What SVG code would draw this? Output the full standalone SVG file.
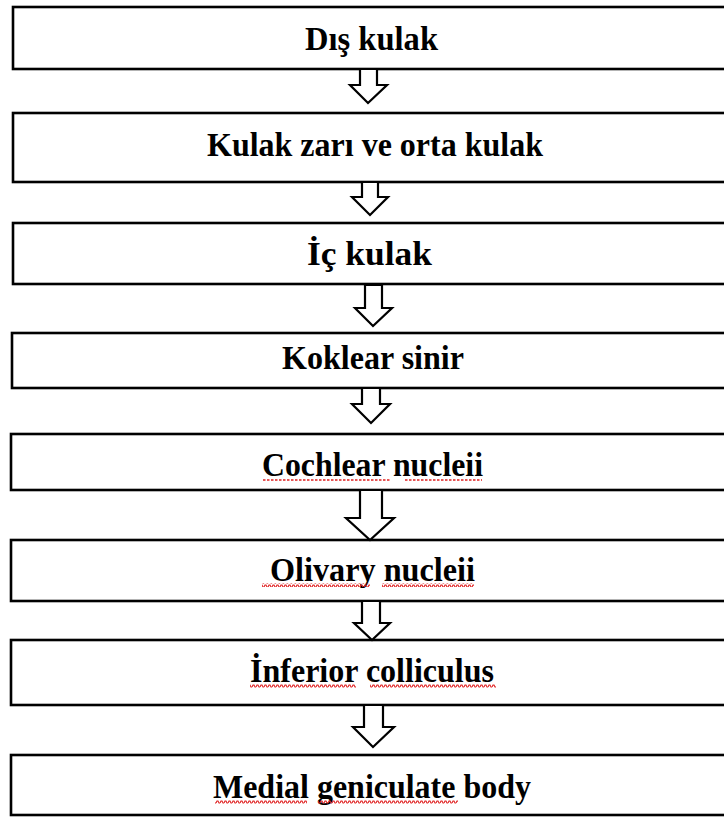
<svg xmlns="http://www.w3.org/2000/svg" width="724" height="817" viewBox="0 0 724 817">
  <style>
    .box { fill: #ffffff; stroke: #000000; stroke-width: 2.6; }
    .lbl { font-family: "Liberation Serif", "Times New Roman", serif; font-weight: bold; font-size: 33px; fill: #000000; text-anchor: middle; }
    .arr { fill: #ffffff; stroke: #000000; stroke-width: 2.2; stroke-linejoin: miter; }
    .dots { stroke: #e02020; stroke-width: 1.3; stroke-dasharray: 2.5 1.5; fill: none; }
  </style>
  <defs>
    <pattern id="wave" x="0" y="0" width="4" height="4" patternUnits="userSpaceOnUse">
      <path d="M0 3 L1 1 L2 1 L3 3 L4 3" fill="none" stroke="#e02020" stroke-width="1.1"/>
    </pattern>
  </defs>
  <rect width="724" height="817" fill="#ffffff"/>

  <g id="node1"><rect class="box" x="13" y="7" width="720" height="62"/><text class="lbl" x="371.5" y="50" textLength="133" lengthAdjust="spacingAndGlyphs">Dış kulak</text></g>
  <g id="node2"><rect class="box" x="13" y="113" width="720" height="69"/><text class="lbl" x="375" y="156" textLength="336" lengthAdjust="spacingAndGlyphs">Kulak zarı ve orta kulak</text></g>
  <g id="node3"><rect class="box" x="13" y="223" width="720" height="61"/><text class="lbl" x="369.5" y="265" textLength="125" lengthAdjust="spacingAndGlyphs">İç kulak</text></g>
  <g id="node4"><rect class="box" x="12" y="333" width="720" height="55"/><text class="lbl" x="373" y="369" textLength="182" lengthAdjust="spacingAndGlyphs">Koklear sinir</text></g>
  <g id="node5"><rect class="box" x="11" y="434" width="720" height="56"/><text class="lbl" x="372.5" y="476" textLength="221" lengthAdjust="spacingAndGlyphs">Cochlear nucleii</text>
    <line class="dots" x1="263" y1="480" x2="391" y2="480"/><line class="dots" x1="405" y1="480" x2="482" y2="480"/></g>
  <g id="node6"><rect class="box" x="11" y="540" width="720" height="61"/><text class="lbl" x="372.5" y="581" textLength="205" lengthAdjust="spacingAndGlyphs">Olivary nucleii</text>
    <rect x="262" y="583" width="108" height="4" fill="url(#wave)"/><rect x="382" y="583" width="92" height="4" fill="url(#wave)"/></g>
  <g id="node7"><rect class="box" x="11" y="640" width="720" height="65"/><text class="lbl" x="372" y="682" textLength="244" lengthAdjust="spacingAndGlyphs">İnferior colliculus</text>
    <rect x="250" y="684" width="106" height="4" fill="url(#wave)"/><rect x="370" y="684" width="126" height="4" fill="url(#wave)"/></g>
  <g id="node8"><rect class="box" x="11" y="755" width="720" height="60"/><text class="lbl" x="372" y="798" textLength="318" lengthAdjust="spacingAndGlyphs">Medial geniculate body</text>
    <rect x="215" y="800" width="92" height="4" fill="url(#wave)"/><rect x="318" y="800" width="140" height="4" fill="url(#wave)"/></g>

  <g id="connectors">
    <polygon class="arr" points="360,69 377,69 377,85 387,85 368,103 350,85 360,85"/>
    <polygon class="arr" points="362,182 378,182 378,197 388,197 370,215 352,197 362,197"/>
    <polygon class="arr" points="365,285 382,285 382,308 392,308 373,326 355,308 365,308"/>
    <polygon class="arr" points="362,388 380,388 380,404 390,404 371,423 352,404 362,404"/>
    <polygon class="arr" points="360,490 382,490 382,518 394,518 370,540 346,518 360,518"/>
    <polygon class="arr" points="362,601 380,601 380,623 390,623 372,640 354,623 362,623"/>
    <polygon class="arr" points="364,705 383,705 383,727 394,727 373,747 353,727 364,727"/>
  </g>
</svg>
